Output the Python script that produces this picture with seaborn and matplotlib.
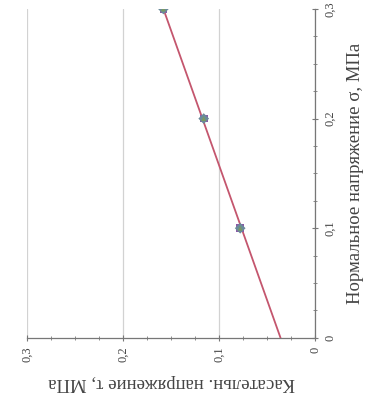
import matplotlib
matplotlib.use("Agg")
import matplotlib.pyplot as plt
import seaborn as sns
import pandas as pd
from matplotlib.ticker import MultipleLocator, FuncFormatter

# Data (normal stress sigma, shear stress tau), MPa
sigma_pts = [0.1, 0.2, 0.3]
tau_pts = [0.078, 0.116, 0.158]
sigma_line = [0.0, 0.3]
tau_line = [0.036, 0.158]

x_label = "Нормальное напряжение σ, МПа"
y_label = "Касательн. напряжение τ, МПа"

sns.set_style("white")
plt.rcParams['font.family'] = ['Liberation Serif', 'DejaVu Serif']

fig = plt.figure(figsize=(3.76, 4.08), dpi=100)
ax = fig.add_axes([0.072, 0.172, 0.766, 0.806])

# Chart is drawn rotated 90° CCW: tau runs right-to-left along the bottom,
# sigma runs bottom-to-top along the right.
sns.lineplot(x=tau_line, y=sigma_line, ax=ax, color="#c4566e", lw=1.3, zorder=3)
pts = pd.DataFrame({"tau": tau_pts, "sigma": sigma_pts})
sns.scatterplot(data=pts, x="tau", y="sigma", ax=ax, marker="s", s=30,
                color="#8a5aa8", edgecolor="none", zorder=4)
sns.scatterplot(data=pts, x="tau", y="sigma", ax=ax, marker="D", s=30,
                color="#6a8a9a", edgecolor="none", zorder=5)
sns.scatterplot(data=pts, x="tau", y="sigma", ax=ax, marker="^", s=12,
                color="#7a9a60", edgecolor="none", zorder=6)

ax.set_xlim(0.3, 0.0)
ax.set_ylim(0.0, 0.3)

for s in ["left", "top"]:
    ax.spines[s].set_visible(False)
for s in ["right", "bottom"]:
    ax.spines[s].set_visible(True)
    ax.spines[s].set_color("#777777")
    ax.spines[s].set_linewidth(0.9)

ax.yaxis.tick_right()
ax.yaxis.set_label_position("right")

ax.xaxis.set_major_locator(MultipleLocator(0.1))
ax.xaxis.set_minor_locator(MultipleLocator(0.025))
ax.yaxis.set_major_locator(MultipleLocator(0.1))
ax.yaxis.set_minor_locator(MultipleLocator(0.025))

fmt = FuncFormatter(lambda v, p: "0" if abs(v) < 1e-9 else f"{v:.1f}".replace(".", ","))
ax.xaxis.set_major_formatter(fmt)
ax.yaxis.set_major_formatter(fmt)

ax.tick_params(axis="both", which="both", direction="inout", color="#777777",
               labelsize=9, labelcolor="#444444", bottom=True, right=True,
               left=False, top=False)
ax.tick_params(axis="both", which="major", length=5, pad=4)
ax.tick_params(axis="both", which="minor", length=3)
for t in ax.get_xticklabels():
    t.set_rotation(90)
    t.set_va("top")
    t.set_ha("center")
for t in ax.get_yticklabels():
    t.set_rotation(90)
    t.set_va("center")
    t.set_ha("left")

ax.grid(True, axis="x", which="major", color="#d2d2d2", lw=0.9)
ax.grid(False, axis="y")

ax.set_xlabel(y_label, rotation=180, fontsize=13.5, color="#444444", labelpad=8)
ax.set_ylabel(x_label, rotation=90, fontsize=13.5, color="#444444", labelpad=8)

fig.savefig("out.png", dpi=100)
